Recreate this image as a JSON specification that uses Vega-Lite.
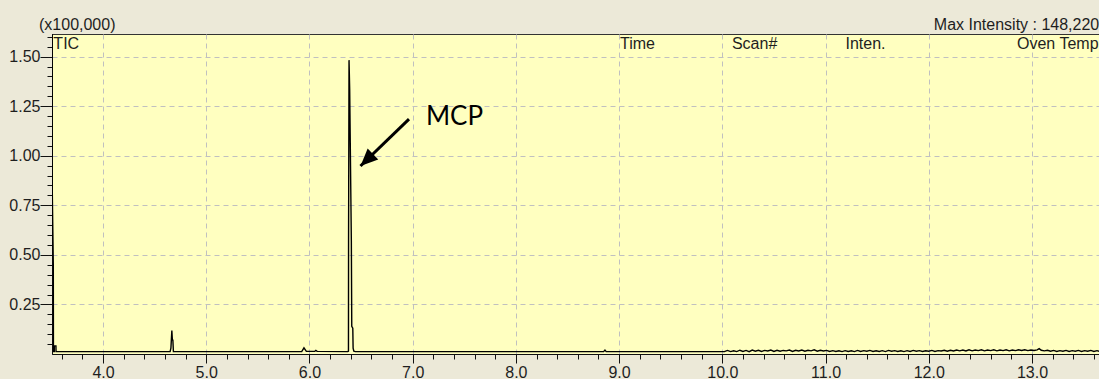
{
  "$schema": "https://vega.github.io/schema/vega-lite/v6.json",
  "width": 1047,
  "height": 320,
  "autosize": {"type": "none"},
  "padding": {"left": 52, "top": 34, "right": 0, "bottom": 25},
  "background": "#ECE9D8",
  "config": {
    "view": {"fill": "#FFFFC0", "stroke": "#333333", "strokeWidth": 1},
    "font": "Liberation Sans",
    "axis": {
      "gridDash": [5, 4],
      "gridColor": "#C0C0C0",
      "domainColor": "#111111",
      "tickColor": "#111111",
      "tickWidth": 1,
      "labelColor": "#1e1e1e",
      "labelFont": "Liberation Sans",
      "labelFontSize": 16,
      "labelOverlap": false,
      "labelFlush": false,
      "tickCount": 1000,
      "title": null
    }
  },
  "resolve": {"axis": {"x": "independent", "y": "independent"}},
  "datasets": {
    "tic": [
      {"time": 3.5060, "intensity": 1.70},
      {"time": 3.5062, "intensity": 0.91},
      {"time": 3.5185, "intensity": 0.45},
      {"time": 3.5200, "intensity": 0.012},
      {"time": 3.5280, "intensity": 0.012},
      {"time": 3.5285, "intensity": 0.041},
      {"time": 3.5440, "intensity": 0.041},
      {"time": 3.5450, "intensity": 0.012},
      {"time": 3.8000, "intensity": 0.012},
      {"time": 4.2000, "intensity": 0.012},
      {"time": 4.6500, "intensity": 0.012},
      {"time": 4.6580, "intensity": 0.030},
      {"time": 4.6670, "intensity": 0.118},
      {"time": 4.6720, "intensity": 0.070},
      {"time": 4.6770, "intensity": 0.070},
      {"time": 4.6820, "intensity": 0.012},
      {"time": 5.2000, "intensity": 0.012},
      {"time": 5.9250, "intensity": 0.012},
      {"time": 5.9470, "intensity": 0.031},
      {"time": 5.9700, "intensity": 0.013},
      {"time": 6.0500, "intensity": 0.013},
      {"time": 6.0620, "intensity": 0.018},
      {"time": 6.0750, "intensity": 0.013},
      {"time": 6.3700, "intensity": 0.012},
      {"time": 6.3780, "intensity": 0.014},
      {"time": 6.3790, "intensity": 0.57},
      {"time": 6.3835, "intensity": 1.4822},
      {"time": 6.3900, "intensity": 1.33},
      {"time": 6.4060, "intensity": 0.57},
      {"time": 6.4100, "intensity": 0.14},
      {"time": 6.4200, "intensity": 0.13},
      {"time": 6.4230, "intensity": 0.03},
      {"time": 6.4300, "intensity": 0.014},
      {"time": 6.4450, "intensity": 0.012},
      {"time": 7.5000, "intensity": 0.012},
      {"time": 8.8500, "intensity": 0.012},
      {"time": 8.8630, "intensity": 0.020},
      {"time": 8.8750, "intensity": 0.012},
      {"time": 9.9900, "intensity": 0.012},
      {"time": 10.02, "intensity": 0.012},
      {"time": 10.05, "intensity": 0.018},
      {"time": 10.08, "intensity": 0.012},
      {"time": 10.11, "intensity": 0.016},
      {"time": 10.14, "intensity": 0.012},
      {"time": 10.17, "intensity": 0.019},
      {"time": 10.20, "intensity": 0.013},
      {"time": 10.23, "intensity": 0.018},
      {"time": 10.26, "intensity": 0.012},
      {"time": 10.29, "intensity": 0.020},
      {"time": 10.32, "intensity": 0.014},
      {"time": 10.35, "intensity": 0.019},
      {"time": 10.38, "intensity": 0.013},
      {"time": 10.41, "intensity": 0.018},
      {"time": 10.44, "intensity": 0.015},
      {"time": 10.47, "intensity": 0.020},
      {"time": 10.50, "intensity": 0.013},
      {"time": 10.53, "intensity": 0.019},
      {"time": 10.56, "intensity": 0.014},
      {"time": 10.59, "intensity": 0.018},
      {"time": 10.62, "intensity": 0.016},
      {"time": 10.65, "intensity": 0.020},
      {"time": 10.68, "intensity": 0.013},
      {"time": 10.71, "intensity": 0.019},
      {"time": 10.74, "intensity": 0.015},
      {"time": 10.77, "intensity": 0.020},
      {"time": 10.80, "intensity": 0.014},
      {"time": 10.83, "intensity": 0.019},
      {"time": 10.86, "intensity": 0.016},
      {"time": 10.89, "intensity": 0.021},
      {"time": 10.92, "intensity": 0.014},
      {"time": 10.95, "intensity": 0.019},
      {"time": 10.98, "intensity": 0.015},
      {"time": 11.01, "intensity": 0.018},
      {"time": 11.04, "intensity": 0.013},
      {"time": 11.07, "intensity": 0.017},
      {"time": 11.10, "intensity": 0.013},
      {"time": 11.13, "intensity": 0.016},
      {"time": 11.16, "intensity": 0.012},
      {"time": 11.19, "intensity": 0.017},
      {"time": 11.22, "intensity": 0.013},
      {"time": 11.25, "intensity": 0.016},
      {"time": 11.28, "intensity": 0.012},
      {"time": 11.31, "intensity": 0.018},
      {"time": 11.34, "intensity": 0.013},
      {"time": 11.37, "intensity": 0.017},
      {"time": 11.40, "intensity": 0.014},
      {"time": 11.43, "intensity": 0.018},
      {"time": 11.46, "intensity": 0.013},
      {"time": 11.49, "intensity": 0.016},
      {"time": 11.52, "intensity": 0.013},
      {"time": 11.55, "intensity": 0.017},
      {"time": 11.58, "intensity": 0.012},
      {"time": 11.61, "intensity": 0.018},
      {"time": 11.64, "intensity": 0.014},
      {"time": 11.67, "intensity": 0.017},
      {"time": 11.70, "intensity": 0.013},
      {"time": 11.73, "intensity": 0.016},
      {"time": 11.76, "intensity": 0.012},
      {"time": 11.79, "intensity": 0.017},
      {"time": 11.82, "intensity": 0.013},
      {"time": 11.85, "intensity": 0.018},
      {"time": 11.88, "intensity": 0.014},
      {"time": 11.91, "intensity": 0.017},
      {"time": 11.94, "intensity": 0.013},
      {"time": 11.97, "intensity": 0.016},
      {"time": 12.00, "intensity": 0.014},
      {"time": 12.03, "intensity": 0.018},
      {"time": 12.06, "intensity": 0.013},
      {"time": 12.09, "intensity": 0.017},
      {"time": 12.12, "intensity": 0.015},
      {"time": 12.15, "intensity": 0.019},
      {"time": 12.18, "intensity": 0.014},
      {"time": 12.21, "intensity": 0.019},
      {"time": 12.24, "intensity": 0.015},
      {"time": 12.27, "intensity": 0.020},
      {"time": 12.30, "intensity": 0.016},
      {"time": 12.33, "intensity": 0.020},
      {"time": 12.36, "intensity": 0.015},
      {"time": 12.39, "intensity": 0.021},
      {"time": 12.42, "intensity": 0.016},
      {"time": 12.45, "intensity": 0.020},
      {"time": 12.48, "intensity": 0.017},
      {"time": 12.51, "intensity": 0.021},
      {"time": 12.54, "intensity": 0.016},
      {"time": 12.57, "intensity": 0.020},
      {"time": 12.60, "intensity": 0.017},
      {"time": 12.63, "intensity": 0.021},
      {"time": 12.66, "intensity": 0.016},
      {"time": 12.69, "intensity": 0.020},
      {"time": 12.72, "intensity": 0.017},
      {"time": 12.75, "intensity": 0.021},
      {"time": 12.78, "intensity": 0.016},
      {"time": 12.81, "intensity": 0.020},
      {"time": 12.84, "intensity": 0.017},
      {"time": 12.87, "intensity": 0.021},
      {"time": 12.90, "intensity": 0.018},
      {"time": 12.93, "intensity": 0.021},
      {"time": 12.96, "intensity": 0.017},
      {"time": 12.99, "intensity": 0.020},
      {"time": 13.02, "intensity": 0.018},
      {"time": 13.05, "intensity": 0.021},
      {"time": 13.07, "intensity": 0.027},
      {"time": 13.09, "intensity": 0.019},
      {"time": 13.12, "intensity": 0.016},
      {"time": 13.15, "intensity": 0.019},
      {"time": 13.18, "intensity": 0.014},
      {"time": 13.21, "intensity": 0.018},
      {"time": 13.24, "intensity": 0.013},
      {"time": 13.27, "intensity": 0.017},
      {"time": 13.30, "intensity": 0.014},
      {"time": 13.33, "intensity": 0.018},
      {"time": 13.36, "intensity": 0.013},
      {"time": 13.39, "intensity": 0.017},
      {"time": 13.42, "intensity": 0.014},
      {"time": 13.45, "intensity": 0.018},
      {"time": 13.48, "intensity": 0.013},
      {"time": 13.51, "intensity": 0.017},
      {"time": 13.54, "intensity": 0.014},
      {"time": 13.57, "intensity": 0.018},
      {"time": 13.60, "intensity": 0.013},
      {"time": 13.63, "intensity": 0.017},
      {"time": 13.65, "intensity": 0.014}
    ],
    "headers": [
      {"label": "(x100,000)", "time": 3.380, "level": 1.634},
      {"label": "Max Intensity : 148,220", "time": 12.049, "level": 1.634},
      {"label": "TIC", "time": 3.519, "level": 1.538},
      {"label": "Time", "time": 9.009, "level": 1.538},
      {"label": "Scan#", "time": 10.093, "level": 1.538},
      {"label": "Inten.", "time": 11.193, "level": 1.538},
      {"label": "Oven Temp", "time": 12.855, "level": 1.538}
    ],
    "arrow": [
      {"fromTime": 6.9645, "fromLevel": 1.185, "toTime": 6.4947, "toLevel": 0.948}
    ],
    "peakLabel": [
      {"label": "MCP", "time": 7.129, "level": 1.1547}
    ]
  },
  "layer": [
    {
      "data": {"name": "tic"},
      "mark": {"type": "line", "color": "#000000", "strokeWidth": 1.4, "clip": true},
      "encoding": {
        "x": {
          "field": "time",
          "type": "quantitative",
          "scale": {"domain": [3.5059, 13.6493], "nice": false, "zero": false},
          "axis": {
            "orient": "bottom",
            "values": [4, 5, 6, 7, 8, 9, 10, 11, 12, 13],
            "format": ".1f",
            "grid": true,
            "tickSize": 9,
            "labelPadding": 1
          }
        },
        "y": {
          "field": "intensity",
          "type": "quantitative",
          "scale": {"domain": [0, 1.614], "nice": false, "zero": false},
          "axis": {
            "orient": "left",
            "values": [0.25, 0.5, 0.75, 1, 1.25, 1.5],
            "format": ".2f",
            "grid": true,
            "tickSize": 12,
            "labelPadding": 0
          }
        }
      }
    },
    {
      "data": {"name": "headers"},
      "mark": {"type": "text", "align": "left", "baseline": "alphabetic", "font": "Liberation Sans", "fontSize": 16, "color": "#1e1e1e"},
      "encoding": {
        "x": {
          "field": "time",
          "type": "quantitative",
          "axis": {
            "orient": "bottom",
            "values": [3.6, 3.8, 4.2, 4.4, 4.6, 4.8, 5.2, 5.4, 5.6, 5.8, 6.2, 6.4, 6.6, 6.8, 7.2, 7.4, 7.6, 7.8, 8.2, 8.4, 8.6, 8.8, 9.2, 9.4, 9.6, 9.8, 10.2, 10.4, 10.6, 10.8, 11.2, 11.4, 11.6, 11.8, 12.2, 12.4, 12.6, 12.8, 13.2, 13.4, 13.6],
            "labels": false,
            "grid": false,
            "domain": false,
            "tickSize": 5
          }
        },
        "y": {
          "field": "level",
          "type": "quantitative",
          "axis": {
            "orient": "left",
            "values": [0.05, 0.1, 0.15, 0.2, 0.3, 0.35, 0.4, 0.45, 0.55, 0.6, 0.65, 0.7, 0.8, 0.85, 0.9, 0.95, 1.05, 1.1, 1.15, 1.2, 1.3, 1.35, 1.4, 1.45, 1.55, 1.6],
            "labels": false,
            "grid": false,
            "domain": false,
            "tickSize": 5
          }
        },
        "text": {"field": "label"}
      }
    },
    {
      "data": {"name": "arrow"},
      "mark": {"type": "rule", "color": "#000000", "strokeWidth": 3},
      "encoding": {
        "x": {"field": "fromTime", "type": "quantitative", "axis": null},
        "y": {"field": "fromLevel", "type": "quantitative", "axis": null},
        "x2": {"field": "toTime"},
        "y2": {"field": "toLevel"}
      }
    },
    {
      "data": {"name": "arrow"},
      "mark": {"type": "point", "shape": "M0,0 L0.44,1 L-0.44,1 Z", "filled": true, "color": "#000000", "opacity": 1, "size": 1200, "angle": 226},
      "encoding": {
        "x": {"field": "toTime", "type": "quantitative", "axis": null},
        "y": {"field": "toLevel", "type": "quantitative", "axis": null}
      }
    },
    {
      "data": {"name": "peakLabel"},
      "mark": {"type": "text", "align": "left", "baseline": "alphabetic", "font": "Lato", "fontSize": 26, "color": "#000000"},
      "encoding": {
        "x": {"field": "time", "type": "quantitative", "axis": null},
        "y": {"field": "level", "type": "quantitative", "axis": null},
        "text": {"field": "label"}
      }
    }
  ]
}
